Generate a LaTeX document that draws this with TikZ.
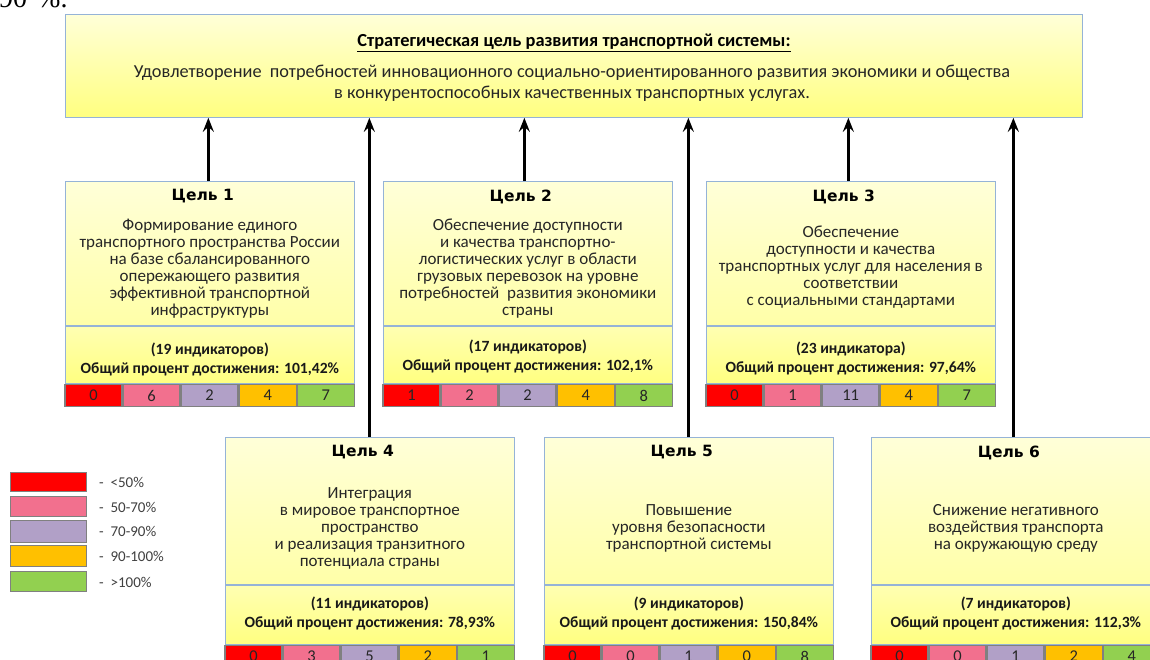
\documentclass[tikz,border=0pt]{standalone}
\usepackage{fontspec}
\setmainfont{Carlito}
\newfontfamily\headfont{DejaVu Sans}
\newfontfamily\serifpart{Liberation Serif}
\usetikzlibrary{arrows.meta}
\definecolor{bordblue}{HTML}{95B3D7}
\definecolor{cred}{HTML}{FF0000}
\definecolor{cpink}{HTML}{F2708E}
\definecolor{cpurple}{HTML}{B1A0C7}
\definecolor{corange}{HTML}{FFC000}
\definecolor{cgreen}{HTML}{92D050}
\definecolor{ytop}{HTML}{FFFFD8}
\definecolor{ymid}{HTML}{FFFFA8}
\definecolor{ybot}{HTML}{FFFF80}
\tikzset{
  x=1pt,y=-1pt,
  panel/.style={draw=bordblue,line width=1.2pt,inner sep=0pt,anchor=north west,minimum width=288.5pt},
  upperpanel/.style={panel,top color=ytop,bottom color=ymid},
  lowerpanel/.style={panel,top color=ymid!80!ytop,bottom color=ybot},
  cellbox/.style={draw=gray,line width=1.3pt,inner sep=0pt,anchor=north west,minimum width=56.8pt,minimum height=21.7pt,font=\fontsize{16.5}{16.5}\selectfont,text=black!85},
  title/.style={font=\headfont\bfseries\fontsize{15.5}{15.5}\selectfont,anchor=center,inner sep=0pt},
  bodytext/.style={font=\fontsize{17}{17}\selectfont,align=center,anchor=center,inner sep=0pt,text=black!85},
  indtext/.style={font=\bfseries\fontsize{15.6}{19}\selectfont,align=center,anchor=center,inner sep=0pt,text=black!90},
  legendbox/.style={draw=gray,line width=1.2pt,inner sep=0pt,anchor=north west,minimum width=76pt},
  legendtext/.style={font=\fontsize{15}{15}\selectfont,anchor=west,inner sep=0pt,text=black!75},
  goalarrow/.style={line width=3.4pt,draw=black,-{Stealth[length=14pt,width=11pt,inset=5pt]}},
}
% name, x, y, upper height, lower height, title
\newcommand{\goalframe}[6]{%
  \node[upperpanel,minimum height=#4pt] (#1a) at (#2,#3) {};
  \node[lowerpanel,minimum height=#5pt] (#1b) at (#1a.south west) {};
  \node[title] (#1t) at ([xshift=-7pt,yshift=-15.5pt]#1a.north) {#6};
}
% name, body offset down, body, ind offset down, ind text
\newcommand{\goaltext}[5]{%
  \node[bodytext] (#1d) at ([yshift=-#2pt]#1a.center) {#3};
  \node[indtext] (#1i) at ([yshift=-#4pt]#1b.center) {#5};
}
% name, five values
\newcommand{\goalcells}[6]{%
  \node[cellbox,fill=cred] (#1c1) at ([xshift=-0.6pt]#1b.south west) {#2};
  \node[cellbox,fill=cpink] (#1c2) at (#1c1.north east) {#3};
  \node[cellbox,fill=cpurple] (#1c3) at (#1c2.north east) {#4};
  \node[cellbox,fill=corange] (#1c4) at (#1c3.north east) {#5};
  \node[cellbox,fill=cgreen] (#1c5) at (#1c4.north east) {#6};
}
\begin{document}
\begin{tikzpicture}
\clip (0,0) rectangle (1150,659);
\fill[white] (0,0) rectangle (1150,659);
\node[font=\serifpart\fontsize{28}{28}\selectfont,anchor=base west,inner sep=0pt] (frag) at (-1,7) {90\hspace{3pt} \%.};

\node[panel,minimum width=1016.6pt,minimum height=102.6pt,top color=ytop,bottom color=ybot] (top) at (65,14) {};
\node[font=\bfseries\fontsize{18.4}{18.4}\selectfont,inner sep=0pt,anchor=center] (toph) at (574,43) {\underline{Стратегическая цель развития транспортной системы:}};
\node[font=\fontsize{18.3}{21}\selectfont,align=center,inner sep=0pt,anchor=center,text=black!85] (topb) at (572,83) {Удовлетворение\ \ потребностей инновационного социально-ориентированного развития экономики и общества\\в конкурентоспособных качественных транспортных услугах.};

\goalframe{gA}{65}{181}{143.8}{56.8}{Цель 1}
\goaltext{gA}{15}{Формирование единого\\транспортного пространства России\\на базе сбалансированного\\опережающего развития\\эффективной транспортной\\инфраструктуры}{4}{(19 индикаторов)\\Общий процент достижения: 101,42\%}
\goalcells{gA}{0}{6}{2}{4}{7}

\goalframe{gB}{383}{181}{143.8}{56.8}{Цель 2}
\goaltext{gB}{15}{Обеспечение доступности\\и качества транспортно-\\логистических услуг в области\\грузовых перевозок на уровне\\потребностей\ \ развития экономики\\страны}{1}{(17 индикаторов)\\Общий процент достижения: 102,1\%}
\goalcells{gB}{1}{2}{2}{4}{8}

\goalframe{gC}{706}{181}{143.8}{56.8}{Цель 3}
\goaltext{gC}{14}{Обеспечение\\доступности и качества\\транспортных услуг для населения в\\соответствии\\с социальными стандартами}{3}{(23 индикатора)\\Общий процент достижения: 97,64\%}
\goalcells{gC}{0}{1}{11}{4}{7}

\goalframe{gD}{225}{437}{147}{58.6}{Цель 4}
\goaltext{gD}{17}{Интеграция\\в мировое транспортное\\пространство\\и реализация транзитного\\потенциала страны}{-2}{(11 индикаторов)\\Общий процент достижения: 78,93\%}
\goalcells{gD}{0}{3}{5}{2}{1}

\goalframe{gE}{544}{437}{147}{58.6}{Цель 5}
\goaltext{gE}{17}{Повышение\\уровня безопасности\\транспортной системы}{-2}{(9 индикаторов)\\Общий процент достижения: 150,84\%}
\goalcells{gE}{0}{0}{1}{0}{8}

\goalframe{gF}{871}{437}{147}{58.6}{Цель 6}
\goaltext{gF}{17}{Снижение негативного\\воздействия транспорта\\на окружающую среду}{-2}{(7 индикаторов)\\Общий процент достижения: 112,3\%}
\goalcells{gF}{0}{0}{1}{2}{4}

\coordinate (sA) at ([xshift=-1.5pt]gAa.north);
\coordinate (sB) at ([xshift=-3.5pt]gBa.north);
\coordinate (sC) at ([xshift=-2.5pt]gCa.north);
\coordinate (sD) at ([xshift=-0.5pt]gDa.north);
\coordinate (sE) at ([xshift=-0.5pt]gEa.north);
\coordinate (sF) at ([xshift=-2.5pt]gFa.north);
\foreach \s in {sA,sB,sC,sD,sE,sF}
  \draw[goalarrow] (\s) -- (\s |- top.south);

\foreach \n/\c/\yy/\hh/\t/\ty in {lA/cred/472/19/<50\%/482, lB/cpink/496/20/50-70\%/507, lC/cpurple/520/22/70-90\%/531, lD/corange/545/21/90-100\%/556, lE/cgreen/571/20/>100\%/582}{
  \node[legendbox,fill=\c,minimum height=\hh pt] (\n) at (10,\yy) {};
  \node[legendtext] (\n t) at (99,\ty) {-\ \ \t};
}
\end{tikzpicture}
\end{document}
